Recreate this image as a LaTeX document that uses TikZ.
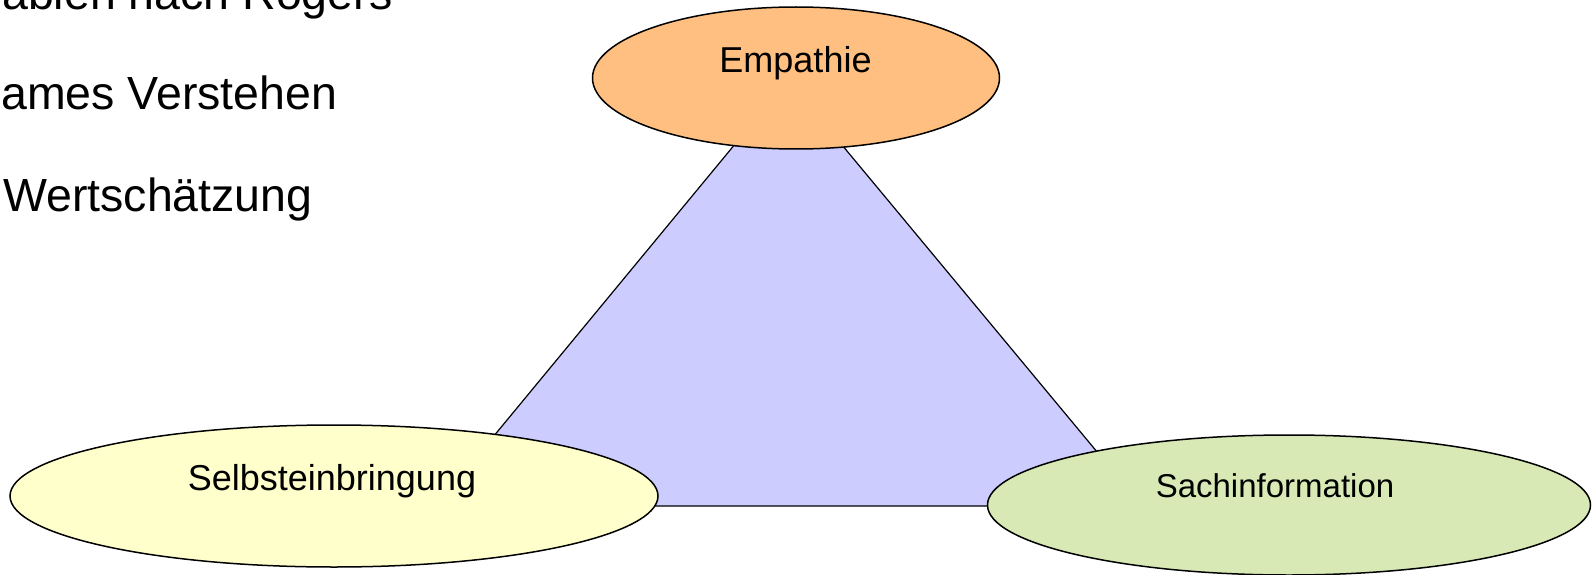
\documentclass[tikz,border=0pt]{standalone}
\usepackage{fontspec}
\setmainfont{Liberation Sans}
\usetikzlibrary{shapes.geometric}
\definecolor{empfill}{RGB}{255,191,128}
\definecolor{selfill}{RGB}{255,255,204}
\definecolor{sachfill}{RGB}{216,233,181}
\definecolor{trifill}{RGB}{204,204,255}
\tikzset{
  bubble/.style={ellipse, draw=black, line width=1.5pt, inner sep=0pt},
  bigtext/.style={inner sep=0pt, anchor=base west, font=\fontsize{46.5}{56}\selectfont},
  lbl/.style={inner sep=0pt, anchor=base, font=\fontsize{36}{43}\selectfont},
  lblsmall/.style={inner sep=0pt, anchor=base, font=\fontsize{33}{40}\selectfont},
}
\begin{document}
\begin{tikzpicture}[x=1pt,y=-1pt]
\clip (0,0) rectangle (1593,575);
\useasboundingbox (0,0) rectangle (1593,575);
\fill[white] (0,0) rectangle (1593,575);
% heading lines (cut off at the left/top edge)
\node[bigtext] (h1) at (2,10) {ablen nach Rogers};
\node[bigtext] (h2) at (1,110) {ames Verstehen};
\node[bigtext] (h3) at (3,211) {Wertschätzung};
% triangle
\coordinate (tA) at (788,80);
\coordinate (tB) at (436,506);
\coordinate (tC) at (1142,506);
\filldraw[fill=trifill, draw=black, line width=1.2pt, line join=miter] (tA) -- (tB) -- (tC) -- cycle;
% ellipses
\node[bubble, fill=empfill, minimum width=407pt, minimum height=142pt] (emp) at (796,78) {};
\node[bubble, fill=selfill, minimum width=648pt, minimum height=142pt] (sel) at (334,496) {};
\node[bubble, fill=sachfill, minimum width=603pt, minimum height=140pt] (sach) at (1289,505) {};
% labels
\node[lbl] (empl) at (795.5,72.7) {Empathie};
\node[lbl] (sell) at (332,490) {Selbsteinbringung};
\node[lblsmall] (sachl) at (1275,497) {Sachinformation};
\end{tikzpicture}
\end{document}
